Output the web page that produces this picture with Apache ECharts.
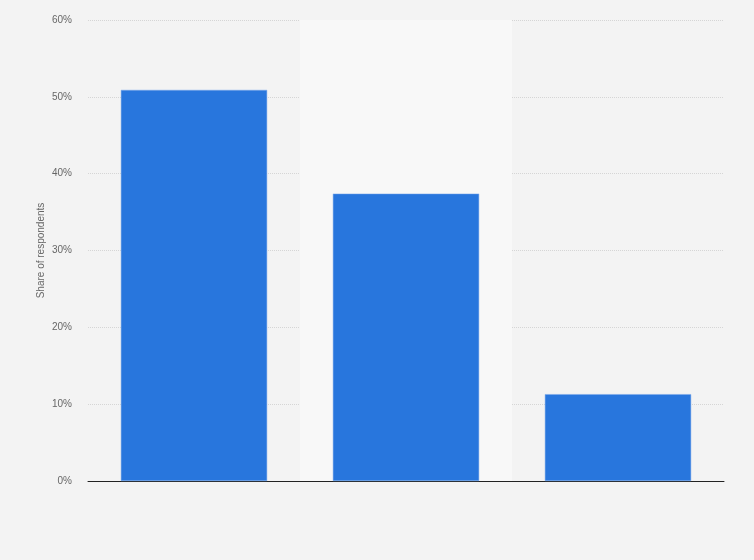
<!DOCTYPE html>
<html><head><meta charset="utf-8">
<script src="https://cdn.jsdelivr.net/npm/echarts@6/dist/echarts.min.js"></script>
<style>html,body{margin:0;padding:0;background:#f3f3f3}#c{width:754px;height:560px}</style>
</head><body><div id="c"></div>
<script>
const categories = ["", " ", "  "];
const shares = [50.9, 37.4, 11.3];
const yTicks = [0, 10, 20, 30, 40, 50, 60];

const chart = echarts.init(document.getElementById('c'));
chart.setOption({
  backgroundColor: '#f3f3f3',
  animation: false,
  grid: { left: 88, right: 30, top: 20, bottom: 79 },
  xAxis: {
    type: 'category', data: categories,
    axisLine: { lineStyle: { color: '#222', width: 1 } },
    axisTick: { show: false }, axisLabel: { show: false },
    splitArea: { show: true, areaStyle: { color: ['rgba(0,0,0,0)', '#f8f8f8'] } }
  },
  yAxis: {
    type: 'value', min: yTicks[0], max: yTicks[yTicks.length - 1], interval: 10,
    name: 'Share of respondents', nameLocation: 'middle', nameGap: 42, nameMoveOverlap: false,
    nameTextStyle: { color: '#666', fontSize: 10, fontFamily: 'Liberation Sans' },
    axisLine: { show: false }, axisTick: { show: false },
    axisLabel: { formatter: '{value}%', color: '#666', fontSize: 10, fontFamily: 'Liberation Sans', margin: 16 },
    splitLine: { lineStyle: { color: '#d5d5d5', type: [1, 1] } }
  },
  series: [{
    type: 'bar', data: shares, barWidth: '69%',
    itemStyle: { color: '#2876dd', borderColor: '#7aa8ea', borderWidth: 0.5 }
  }]
});
</script></body></html>
